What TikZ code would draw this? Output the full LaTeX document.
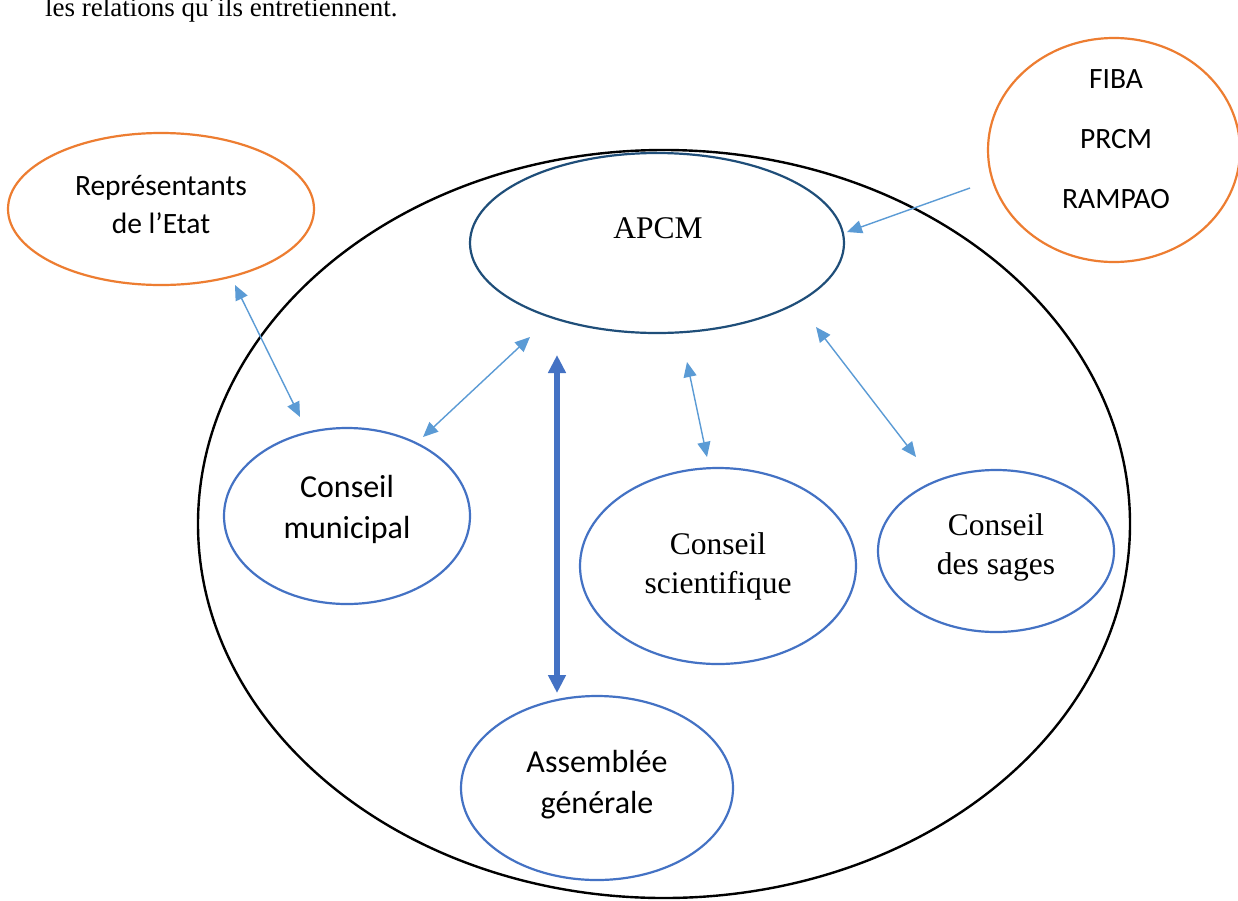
\documentclass[tikz,border=0pt]{standalone}
\usepackage{fontspec}
\setmainfont{Liberation Serif}
\newfontfamily\calfont{Carlito}
\usetikzlibrary{shapes.geometric,arrows.meta}
\definecolor{orangeO}{HTML}{ED7D31}
\definecolor{darkB}{HTML}{1F4E79}
\definecolor{midB}{HTML}{4472C4}
\definecolor{lightB}{HTML}{5B9BD5}
\tikzset{
  oval/.style={ellipse, draw, line width=2.2pt, inner sep=0pt},
  lbl/.style={inner sep=0pt, align=center},
  sansout/.style={font=\calfont\fontsize{29.5}{38}\selectfont},
  sansin/.style={font=\calfont\fontsize{32}{41}\selectfont},
  seriftext/.style={font=\fontsize{31.5}{39}\selectfont},
  thinarrow/.style={draw=lightB, line width=1.4pt, -{Triangle[length=15pt,width=13pt]}},
  boththin/.style={draw=lightB, line width=1.4pt, {Triangle[length=15pt,width=13pt]}-{Triangle[length=15pt,width=13pt]}},
  boththick/.style={draw=midB, line width=6pt, {Triangle[length=18pt,width=17pt]}-{Triangle[length=18pt,width=17pt]}},
}
\begin{document}
\begin{tikzpicture}[x=1pt,y=-1pt]
\useasboundingbox (0,0) rectangle (1238,900);
\clip (0,0) rectangle (1238,900);
\fill[white] (0,0) rectangle (1238,900);

% top text (cut)
\node[anchor=base west, inner sep=0pt, font=\fontsize{27}{32}\selectfont] (intro) at (45,16) {les relations qu´ils entretiennent.};

% big circle
\node[ellipse, draw=black, line width=2.4pt, minimum width=932pt, minimum height=748pt, inner sep=0pt] (big) at (664,524) {};

% outside entities
\node[oval, draw=orangeO, minimum width=306pt, minimum height=152pt] (etat) at (161,209) {};
\node[lbl, sansout] (etattext) at (161,205) {Représentants\\de l’Etat};
\node[oval, draw=orangeO, minimum width=252pt, minimum height=224pt] (partners) at (1114,150) {};
\node[lbl, font=\calfont\fontsize{29.5}{60}\selectfont] (partnerstext) at (1116,139) {FIBA\\PRCM\\RAMPAO};

% inner entities
\node[oval, draw=darkB, minimum width=374pt, minimum height=180pt] (apcm) at (657,243) {};
\node[lbl, seriftext] (apcmtext) at (658,228) {APCM};
\node[oval, draw=midB, minimum width=246pt, minimum height=176pt] (municipal) at (347,516) {};
\node[lbl, sansin] (municipaltext) at (347,509) {Conseil\\municipal};
\node[oval, draw=midB, minimum width=276pt, minimum height=196pt] (scient) at (718,566) {};
\node[lbl, seriftext] (scienttext) at (718,566) {Conseil\\scientifique};
\node[oval, draw=midB, minimum width=236pt, minimum height=162pt] (sages) at (996,551) {};
\node[lbl, seriftext] (sagestext) at (996,547) {Conseil\\des sages};
\node[oval, draw=midB, minimum width=272pt, minimum height=184pt] (ag) at (597,788) {};
\node[lbl, sansin] (agtext) at (597,785) {Assemblée\\générale};

% arrow ends
\coordinate (p1s) at (970,188);
\coordinate (p1e) at (847,232);
\coordinate (e1) at (235,285);
\coordinate (m1) at (300,417);
\coordinate (m2) at (423,437);
\coordinate (a2) at (530,337);
\coordinate (a3) at (557,355);
\coordinate (g1) at (557,693);
\coordinate (a4) at (687,362);
\coordinate (s1) at (707,457);
\coordinate (a5) at (816,327);
\coordinate (d1) at (916,457);

\draw[thinarrow] (p1s) -- (p1e);
\draw[boththin] (e1) -- (m1);
\draw[boththin] (m2) -- (a2);
\draw[boththick] (a3) -- (g1);
\draw[boththin] (a4) -- (s1);
\draw[boththin] (a5) -- (d1);
\end{tikzpicture}
\end{document}
